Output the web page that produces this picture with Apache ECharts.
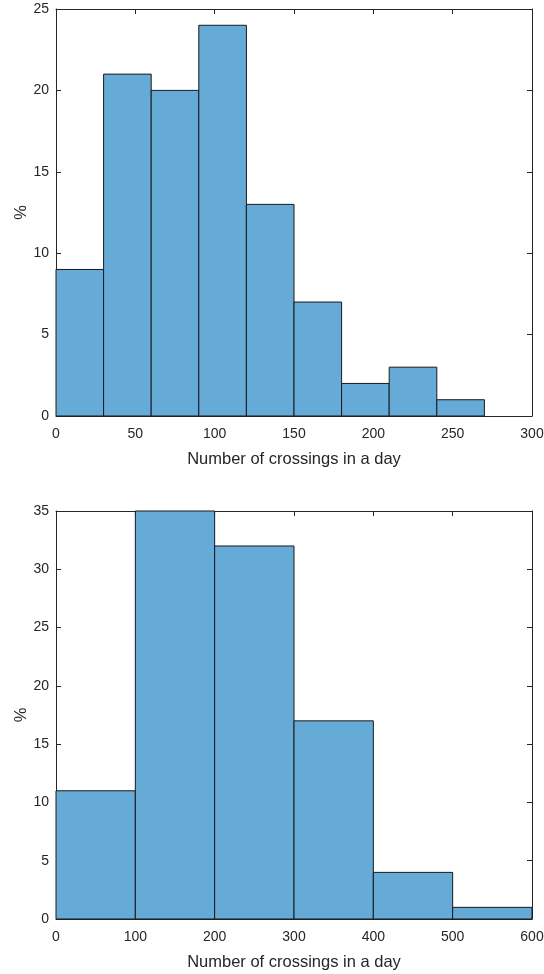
<!DOCTYPE html>
<html><head><meta charset="utf-8">
<script src="https://cdn.jsdelivr.net/npm/echarts@6/dist/echarts.min.js"></script>
<style>html,body{margin:0;padding:0;background:#fff}#c{width:544px;height:974px}</style>
</head><body><div id="c"></div>
<script>
const binEdges1 = [0,30,60,90,120,150,180,210,240,270];
const values1 = [9,21,20,24,13,7,2,3,1];
const binEdges2 = [0,100,200,300,400,500,600];
const values2 = [11,35,32,17,4,1];
const xLabel = 'Number of crossings in a day';
const yLabel = '%';

function toData(edges, vals){
  return vals.map((v,i)=>[edges[i], edges[i+1], v]);
}
const chart = echarts.init(document.getElementById('c'));
const font = '"Liberation Sans", Arial, sans-serif';
const txt = '#262626';
function renderItem(params, api){
  const p0 = api.coord([api.value(0), api.value(2)]);
  const p1 = api.coord([api.value(1), 0]);
  return {type:'rect', shape:{x:p0[0], y:p0[1], width:p1[0]-p0[0], height:p1[1]-p0[1]},
    style:{fill:'#66AAD7', stroke:'#1a1a1a', lineWidth:1}};
}
function xAx(grid, max, interval, show){
  return {type:'value', gridIndex:grid, min:0, max:max, interval:interval, position: show?'bottom':'top',
    name: show?xLabel:'', nameLocation:'middle', nameGap:35, nameTextStyle:{color:txt,fontSize:16.5,fontFamily:font},
    axisLine:{show:true, onZero:false, lineStyle:{color:'#262626',width:1}},
    axisTick:{show:true, inside:true, length:5, lineStyle:{color:'#262626'}},
    axisLabel:{show:show, color:txt, fontSize:14, fontFamily:font, margin:11},
    splitLine:{show:false}};
}
function yAx(grid, max, interval, show){
  return {type:'value', gridIndex:grid, min:0, max:max, interval:interval, position: show?'left':'right',
    name: show?yLabel:'', nameLocation:'middle', nameGap:26, nameMoveOverlap:false, nameRotate:90, nameTextStyle:{color:txt,fontSize:16.5,fontFamily:font},
    axisLine:{show:true, onZero:false, lineStyle:{color:'#262626',width:1}},
    axisTick:{show:true, inside:true, length:5, lineStyle:{color:'#262626'}},
    axisLabel:{show:show, color:txt, fontSize:14, fontFamily:font, margin:7},
    splitLine:{show:false}};
}
chart.setOption({
  animation:false,
  grid:[{left:56, top:9, width:476, height:407, containLabel:false, outerBoundsMode:'none'},
        {left:56, top:511, width:476, height:408, containLabel:false, outerBoundsMode:'none'}],
  xAxis:[xAx(0,300,50,true), xAx(0,300,50,false), xAx(1,600,100,true), xAx(1,600,100,false)],
  yAxis:[yAx(0,25,5,true), yAx(0,25,5,false), yAx(1,35,5,true), yAx(1,35,5,false)],
  series:[
    {type:'custom', xAxisIndex:0, yAxisIndex:0, renderItem, encode:{x:[0,1], y:2}, data:toData(binEdges1, values1), z:1},
    {type:'custom', xAxisIndex:2, yAxisIndex:2, renderItem, encode:{x:[0,1], y:2}, data:toData(binEdges2, values2), z:1}
  ]
});
</script></body></html>
